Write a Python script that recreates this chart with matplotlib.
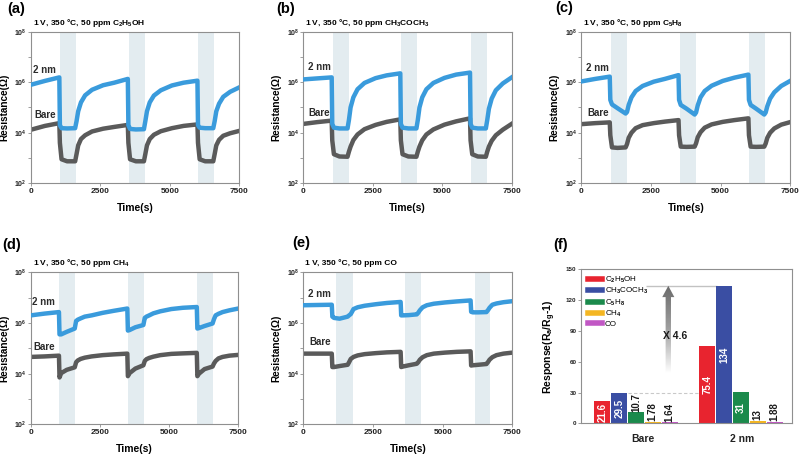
import numpy as np
import matplotlib
matplotlib.use("Agg")
import matplotlib.pyplot as plt
from matplotlib.patches import FancyArrow
from matplotlib.lines import Line2D
from matplotlib.colors import LinearSegmentedColormap
from matplotlib import transforms

plt.rcParams['font.family'] = ['Liberation Sans', 'DejaVu Sans']
plt.rcParams['font.weight'] = 'bold'
plt.rcParams['mathtext.fontset'] = 'custom'
plt.rcParams['mathtext.rm'] = 'Liberation Sans'
plt.rcParams['mathtext.bf'] = 'Liberation Sans:bold'
plt.rcParams['mathtext.it'] = 'Liberation Sans:italic'

# temps (s) commun a toutes les courbes
t = [0, 500, 1020, 1040, 1100, 1300, 1590, 1640, 1700, 1800, 1950, 2200, 2600, 3000,
     3490, 3510, 3570, 3780, 4070, 4120, 4180, 4280, 4430, 4680, 5080, 5500,
     6000, 6020, 6080, 6280, 6570, 6620, 6680, 6780, 6930, 7180, 7500]

# log10 de la resistance
a_2nm = [5.90, 6.05, 6.19, 4.30, 4.18, 4.17, 4.18, 4.45, 4.85, 5.20, 5.48, 5.70, 5.88, 5.98,
         6.13, 4.30, 4.15, 4.13, 4.14, 4.45, 4.85, 5.20, 5.47, 5.68, 5.87, 5.98,
         6.06, 4.30, 4.20, 4.18, 4.18, 4.45, 4.85, 5.15, 5.42, 5.62, 5.79]
a_bare = [4.12, 4.27, 4.38, 3.60, 2.95, 2.87, 2.87, 3.15, 3.50, 3.75, 3.90, 4.05, 4.16, 4.23,
          4.31, 3.60, 2.95, 2.87, 2.87, 3.15, 3.50, 3.75, 3.92, 4.06, 4.18, 4.27,
          4.33, 3.60, 2.95, 2.87, 2.87, 3.15, 3.50, 3.72, 3.88, 3.98, 4.07]
b_2nm = [6.11, 6.15, 6.19, 4.35, 4.20, 4.17, 4.17, 4.50, 5.00, 5.40, 5.72, 5.97, 6.16, 6.27,
         6.35, 4.35, 4.20, 4.17, 4.17, 4.50, 5.00, 5.40, 5.72, 5.97, 6.17, 6.30,
         6.38, 4.35, 4.20, 4.17, 4.17, 4.50, 4.95, 5.35, 5.68, 5.95, 6.19]
b_bare = [4.35, 4.42, 4.48, 3.70, 3.15, 3.06, 3.05, 3.25, 3.45, 3.71, 3.93, 4.14, 4.31, 4.43,
          4.53, 3.70, 3.15, 3.06, 3.05, 3.25, 3.45, 3.70, 3.93, 4.13, 4.32, 4.45,
          4.57, 3.70, 3.15, 3.06, 3.05, 3.25, 3.45, 3.68, 3.90, 4.12, 4.35]
c_2nm = [6.03, 6.13, 6.22, 5.30, 5.12, 4.97, 4.76, 4.82, 5.10, 5.40, 5.65, 5.85, 6.02, 6.13,
         6.28, 5.30, 5.10, 4.95, 4.72, 4.80, 5.08, 5.40, 5.65, 5.86, 6.05, 6.18,
         6.30, 5.30, 5.10, 4.95, 4.72, 4.80, 5.05, 5.35, 5.60, 5.85, 6.05]
c_bare = [4.34, 4.38, 4.41, 3.90, 3.42, 3.40, 3.42, 3.55, 3.80, 4.00, 4.18, 4.30, 4.38, 4.44,
          4.50, 3.90, 3.45, 3.44, 3.45, 3.58, 3.82, 4.02, 4.20, 4.33, 4.43, 4.50,
          4.57, 3.90, 3.45, 3.44, 3.45, 3.57, 3.80, 4.00, 4.17, 4.32, 4.42]
d_2nm = [6.30, 6.37, 6.43, 5.55, 5.55, 5.65, 5.78, 6.08, 6.13, 6.18, 6.25, 6.30, 6.40, 6.48,
         6.57, 5.70, 5.72, 5.83, 5.92, 6.20, 6.25, 6.30, 6.38, 6.46, 6.55, 6.60,
         6.63, 5.78, 5.80, 5.88, 5.98, 6.15, 6.30, 6.36, 6.43, 6.50, 6.57]
d_bare = [4.66, 4.68, 4.71, 3.85, 4.02, 4.15, 4.25, 4.45, 4.52, 4.58, 4.63, 4.68, 4.73, 4.76,
          4.79, 3.90, 4.02, 4.20, 4.33, 4.50, 4.57, 4.62, 4.67, 4.73, 4.78, 4.80,
          4.82, 3.90, 4.00, 4.18, 4.28, 4.40, 4.50, 4.60, 4.66, 4.71, 4.74]
e_2nm = [6.70, 6.71, 6.72, 6.25, 6.20, 6.17, 6.25, 6.30, 6.35, 6.55, 6.62, 6.68, 6.74, 6.79,
         6.83, 6.30, 6.30, 6.31, 6.34, 6.40, 6.50, 6.62, 6.70, 6.76, 6.81, 6.85,
         6.89, 6.44, 6.42, 6.42, 6.43, 6.50, 6.60, 6.72, 6.77, 6.82, 6.86]
e_bare = [4.79, 4.79, 4.79, 4.26, 4.26, 4.30, 4.35, 4.45, 4.58, 4.66, 4.72, 4.77, 4.81, 4.84,
          4.86, 4.26, 4.28, 4.33, 4.39, 4.45, 4.55, 4.65, 4.73, 4.79, 4.83, 4.86,
          4.88, 4.32, 4.33, 4.35, 4.38, 4.45, 4.55, 4.65, 4.73, 4.79, 4.83]

# periodes d'injection du gaz (zones grisees)
a_gas = [(1060, 1630), (3525, 4100), (6035, 6615)]
b_gas = [(1080, 1655), (3515, 4105), (6035, 6612)]
c_gas = [(1065, 1650), (3530, 4115), (6030, 6600)]
d_gas = [(1035, 1605), (3505, 4095), (6005, 6585)]
e_gas = [(1170, 1770), (3660, 4222), (6148, 6710)]

titles = [r"1 V, 350 °C, 50 ppm C$_\mathbf{2}$H$_\mathbf{5}$OH",
          r"1 V, 350 °C, 50 ppm CH$_\mathbf{3}$COCH$_\mathbf{3}$",
          r"1 V, 350 °C, 50 ppm C$_\mathbf{5}$H$_\mathbf{8}$",
          r"1 V, 350 °C, 50 ppm CH$_\mathbf{4}$",
          "1 V, 350 °C, 50 ppm CO"]
letters = ["(a)", "(b)", "(c)", "(d)", "(e)", "(f)"]

# reponses (f)
gases = [r"C$_2$H$_5$OH", r"CH$_3$COCH$_3$", r"C$_5$H$_8$", r"CH$_4$", "CO"]
resp_bare = [21.6, 29.5, 10.7, 1.3, 1.0]
resp_2nm = [75.4, 134, 31, 2.6, 1.6]
lab_bare = ["21.6", "29.5", "10.7", "1.78", "1.64"]
lab_2nm = ["75.4", "134", "31", "13", "1.88"]
groups = ["Bare", "2 nm"]

blue = "#3a9bdc"
gray = "#5a5a5a"
shade = "#e3ecf0"
spine_c = "#8f8f8f"
bar_colors = ["#e8242f", "#3a4ea3", "#1b8a4c", "#f4b622", "#c157c4"]

fig = plt.figure(figsize=(8, 4.54), dpi=100)

boxes = [(0.0388, 0.5963, 0.2600, 0.3340),
         (0.3792, 0.5963, 0.2604, 0.3340),
         (0.7267, 0.5963, 0.2610, 0.3340),
         (0.0384, 0.0654, 0.2595, 0.3348),
         (0.3792, 0.0654, 0.2613, 0.3348)]
series = [(a_bare, a_2nm, a_gas), (b_bare, b_2nm, b_gas), (c_bare, c_2nm, c_gas),
          (d_bare, d_2nm, d_gas), (e_bare, e_2nm, e_gas)]
# position des etiquettes "2 nm" / "Bare" (x en fraction d'axe, y en log10)
name_pos = [(0.010, 6.48, 4.72), (0.020, 6.61, 4.77), (0.024, 6.57, 4.77),
            (0.008, 6.84, 5.04), (0.022, 7.14, 5.25)]
letter_pos = [(7, 9.5), (276, 9), (555, 8), (2, 245), (292, 243), (553, 245)]


def style_axes(ax):
    for s in ax.spines.values():
        s.set_color(spine_c)
        s.set_linewidth(0.8)
    ax.tick_params(which='both', direction='out', color=spine_c, width=0.6, length=2,
                   labelcolor='#222222')


for i, (box, (bare, nm, gas)) in enumerate(zip(boxes, series)):
    ax = fig.add_axes(box)
    for g0, g1 in gas:
        ax.axvspan(g0, g1, color=shade, lw=0, zorder=0)
    ax.plot(t, np.power(10.0, bare), color=gray, lw=3.2, solid_joinstyle='round', zorder=2)
    ax.plot(t, np.power(10.0, nm), color=blue, lw=3.2, solid_joinstyle='round', zorder=3)
    ax.set_yscale('log')
    ax.set_xlim(0, 7500)
    ax.set_ylim(1e2, 1e8)
    ax.set_xticks([0, 2500, 5000, 7500])
    ax.set_xticklabels(["0", "2500", "5000", "7500"], fontsize=6)
    ax.set_yticks([1e2, 1e4, 1e6, 1e8])
    ax.set_yticklabels([r"$\mathbf{10^{2}}$", r"$\mathbf{10^{4}}$",
                        r"$\mathbf{10^{6}}$", r"$\mathbf{10^{8}}$"], fontsize=5)
    ax.set_yticks([1e3, 1e5, 1e7], minor=True)
    ax.yaxis.set_minor_formatter(plt.NullFormatter())
    style_axes(ax)
    ax.tick_params(axis='y', pad=1)
    ax.tick_params(axis='x', pad=1.5)
    ax.set_ylabel("Resistance(Ω)", fontsize=7.2, fontweight='bold')
    ax.yaxis.set_label_coords(-0.105, 0.5)
    ax.text(0.5, -0.163, "Time(s)", transform=ax.transAxes, ha='center', va='center',
            fontsize=7.5, fontweight='bold')
    ax.text(0.01, 1.058, titles[i], transform=ax.transAxes, ha='left', va='center',
            fontsize=6, fontweight='bold')
    tr = transforms.blended_transform_factory(ax.transAxes, ax.transData)
    xp, y2, yb = name_pos[i]
    ax.text(xp, 10 ** y2, "2 nm", transform=tr, fontsize=7, fontweight='bold',
            color='#2b2b2b', va='center', ha='left')
    ax.text(xp + 0.005, 10 ** yb, "Bare", transform=tr, fontsize=7, fontweight='bold',
            color='#2b2b2b', va='center', ha='left')

# (f) histogramme des reponses
axf = fig.add_axes((0.7258, 0.0676, 0.2645, 0.3390))
x_bare = np.arange(len(resp_bare))
x_2nm = np.arange(len(resp_2nm)) + 6.25
for xs, vals, labs in [(x_bare, resp_bare, lab_bare), (x_2nm, resp_2nm, lab_2nm)]:
    axf.bar(xs, vals, width=0.95, color=bar_colors, zorder=2)
    for x, v, lab in zip(xs, vals, labs):
        if v > 15:
            axf.text(x, v / 2, lab, rotation=90, ha='center', va='center', color='white',
                     fontsize=7, fontweight='bold', zorder=4)
        else:
            axf.text(x, v + 0.5, lab, rotation=90, ha='center', va='bottom', color='#1a1a1a',
                     fontsize=7, fontweight='bold', zorder=4)

axf.hlines(resp_bare[1], x_bare[1] + 0.5, x_2nm[0] - 0.45, colors='#c9c9c9',
           linestyles=(0, (3, 2)), lw=0.8, zorder=1)
axf.hlines(resp_2nm[1], 2.6, x_2nm[1] - 0.45, colors='#c2c2c2', lw=1.0, zorder=1)

arrow = FancyArrow(3.92, 49, 0, resp_2nm[1] - 49, width=0.32, head_width=0.72,
                   head_length=11, length_includes_head=True, facecolor='none',
                   edgecolor='none')
axf.add_patch(arrow)
cmap = LinearSegmentedColormap.from_list("arr", ["#ffffff", "#a0a0a0", "#6a6a6a"])
grad = np.linspace(0, 1, 256).reshape(-1, 1)
im = axf.imshow(grad, extent=[3.4, 4.45, 49, resp_2nm[1]], origin='lower', cmap=cmap,
                aspect='auto', zorder=3)
im.set_clip_path(arrow)
axf.text(4.3, 85, "X 4.6", ha='center', va='center', fontsize=7.5, fontweight='bold',
         color='#1a1a1a', zorder=5)

axf.set_xlim(-1.3, 11.3)
axf.set_ylim(0, 150)
axf.set_yticks([0, 30, 60, 90, 120, 150])
axf.set_yticklabels(["0", "30", "60", "90", "120", "150"], fontsize=4.5)
axf.set_xticks([2.4, 8.3])
axf.set_xticklabels(groups, fontsize=7.5, fontweight='bold')
style_axes(axf)
axf.tick_params(axis='x', length=0, pad=8)
axf.tick_params(axis='y', pad=1)
axf.set_ylabel(r"Response(R$_\mathbf{a}$/R$_\mathbf{g}$-1)", fontsize=7.5, fontweight='bold')
axf.yaxis.set_label_coords(-0.105, 0.5)

handles = [Line2D([0], [0], color=c, lw=4) for c in bar_colors]
axf.legend(handles, gases, loc='upper left', bbox_to_anchor=(0.035, 0.965), frameon=False,
           borderaxespad=0, borderpad=0, handlelength=1.7, handletextpad=0.4,
           labelspacing=0.15, prop={'size': 5.8, 'weight': 'normal'})

for lab, (px, py) in zip(letters, letter_pos):
    fig.text(px / 800, 1 - py / 454, lab, ha='left', va='center', fontsize=10.5,
             fontweight='bold')

fig.savefig("out.png", dpi=100)
